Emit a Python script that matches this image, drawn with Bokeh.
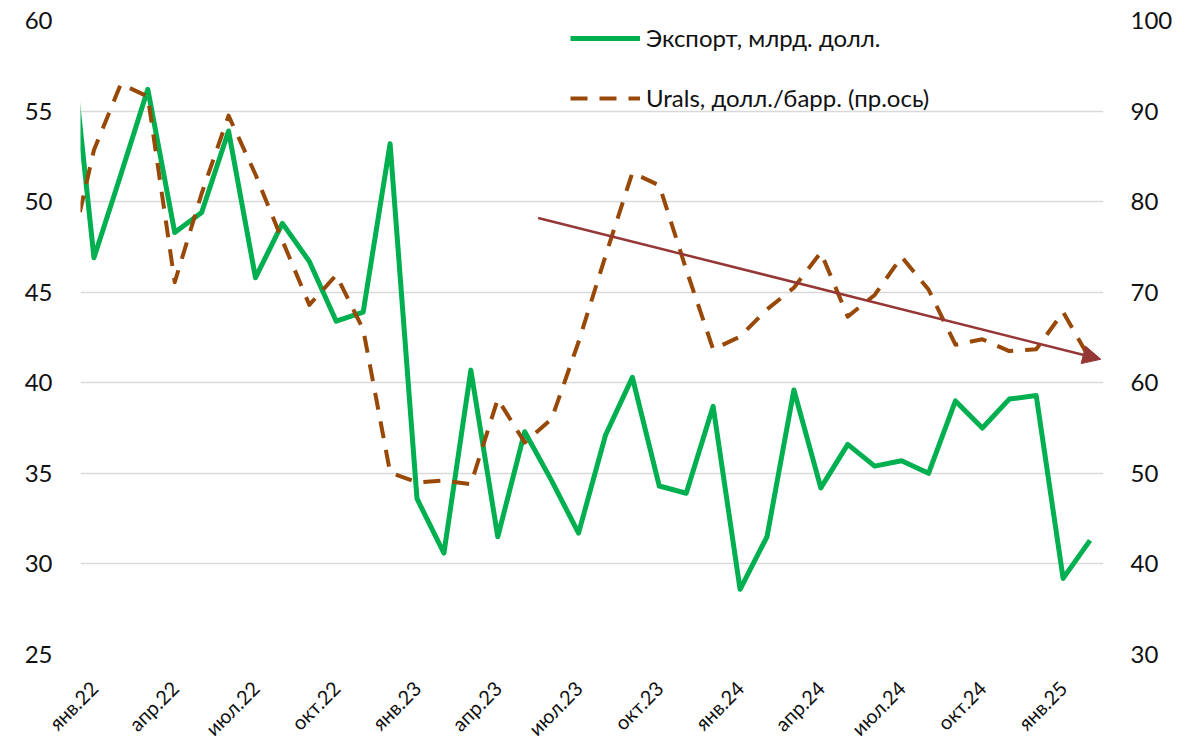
import numpy as np
from bokeh.plotting import figure
from bokeh.models import (Range1d, LinearAxis, FixedTicker, Legend, LegendItem,
                          Arrow, NormalHead)
from bokeh.embed import file_html
from bokeh.resources import INLINE

# ---------------- data ----------------
months = ["дек.21",
          "янв.22", "фев.22", "мар.22", "апр.22", "май.22", "июн.22",
          "июл.22", "авг.22", "сен.22", "окт.22", "ноя.22", "дек.22",
          "янв.23", "фев.23", "мар.23", "апр.23", "май.23", "июн.23",
          "июл.23", "авг.23", "сен.23", "окт.23", "ноя.23", "дек.23",
          "янв.24", "фев.24", "мар.24", "апр.24", "май.24", "июн.24",
          "июл.24", "авг.24", "сен.24", "окт.24", "ноя.24", "дек.24",
          "янв.25", "фев.25"]

export_bn = [61.0,
             46.9, 51.5, 56.2, 48.3, 49.4, 53.9,
             45.8, 48.8, 46.7, 43.4, 43.9, 53.2,
             33.6, 30.6, 40.7, 31.5, 37.3, 34.6,
             31.7, 37.1, 40.3, 34.3, 33.9, 38.7,
             28.6, 31.5, 39.6, 34.2, 36.6, 35.4,
             35.7, 35.0, 39.0, 37.5, 39.1, 39.3,
             29.2, 31.3]

urals_usd = [72.6,
             85.7, 93.0, 91.6, 71.1, 80.9, 89.5,
             83.0, 75.7, 68.6, 71.9, 65.9, 50.1,
             49.0, 49.2, 48.8, 58.2, 53.4, 56.0,
             64.5, 74.0, 83.2, 81.8, 72.5, 63.7,
             65.1, 68.1, 70.5, 74.4, 67.3, 69.7,
             73.9, 70.3, 64.2, 64.8, 63.5, 63.7,
             67.8, 62.6]

tick_labels = ["янв.22", "апр.22", "июл.22", "окт.22",
               "янв.23", "апр.23", "июл.23", "окт.23",
               "янв.24", "апр.24", "июл.24", "окт.24", "янв.25"]

# trend arrow over Urals (start / end: month position, $/bbl)
trend_x = [16.5, 37.4]
trend_y = [78.2, 62.6]

series_names = ["Экспорт, млрд. долл.", "Urals, долл./барр. (пр.ось)"]

# ---------------- styling ----------------
FONT = "Lato"
GREEN = "#00B050"
BROWN = "#984807"
ARROW = "#953735"
GRID = "#D9D9D9"
TXT = "#111111"

x = [i - 1 for i in range(len(months))]   # "янв.22" -> 0
tick_pos = [months.index(m) - 1 for m in tick_labels]

p = figure(width=1197, height=751, output_backend="svg", toolbar_location=None,
           x_range=Range1d(-0.5, 37.5), y_range=Range1d(25, 60),
           min_border_left=80, min_border_right=94, min_border_top=20,
           min_border_bottom=95)
p.extra_y_ranges = {"right": Range1d(30, 100)}
p.outline_line_color = None
p.background_fill_color = "white"
p.border_fill_color = "white"

# left axis
la = p.yaxis[0]
la.ticker = FixedTicker(ticks=[25, 30, 35, 40, 45, 50, 55, 60])
# right axis
ra = LinearAxis(y_range_name="right", ticker=FixedTicker(ticks=[30, 40, 50, 60, 70, 80, 90, 100]))
p.add_layout(ra, "right")
# bottom axis
ba = p.xaxis[0]
ba.ticker = FixedTicker(ticks=tick_pos)
ba.major_label_overrides = {pos: lab for pos, lab in zip(tick_pos, tick_labels)}
ba.major_label_orientation = np.pi / 4

for ax in (la, ra, ba):
    ax.axis_line_color = None
    ax.major_tick_line_color = None
    ax.minor_tick_line_color = None
    ax.major_tick_out = 0
    ax.major_tick_in = 0
    ax.minor_tick_out = 0
    ax.minor_tick_in = 0
    ax.major_label_text_font = FONT
    ax.major_label_text_color = TXT
la.major_label_text_font_size = "24px"
ra.major_label_text_font_size = "24px"
la.major_label_standoff = 28
ra.major_label_standoff = 27
ba.major_label_text_font_size = "20px"
ba.major_label_standoff = 30

p.xgrid.grid_line_color = None
p.ygrid.grid_line_color = GRID
p.ygrid.grid_line_width = 1.5

r_exp = p.line(x, export_bn, line_color=GREEN, line_width=5, line_join="round")
r_ural = p.line(x, urals_usd, y_range_name="right", line_color=BROWN, line_width=4,
                line_dash="17 12", line_join="round")

p.add_layout(Arrow(end=NormalHead(size=18, fill_color=ARROW, line_color=ARROW),
                   x_start=trend_x[0], y_start=trend_y[0],
                   x_end=trend_x[1], y_end=trend_y[1],
                   y_range_name="right", line_color=ARROW, line_width=2.5))

legend = Legend(items=[LegendItem(label=series_names[0], renderers=[r_exp]),
                       LegendItem(label=series_names[1], renderers=[r_ural])],
                location=(490, 542), orientation="vertical",
                glyph_width=70, glyph_height=20, label_standoff=6,
                spacing=31, padding=0, margin=0,
                label_text_font=FONT, label_text_font_size="24px",
                label_text_color=TXT,
                background_fill_alpha=0, border_line_alpha=0)
p.add_layout(legend)

open("out.html", "w").write(file_html(p, INLINE))
